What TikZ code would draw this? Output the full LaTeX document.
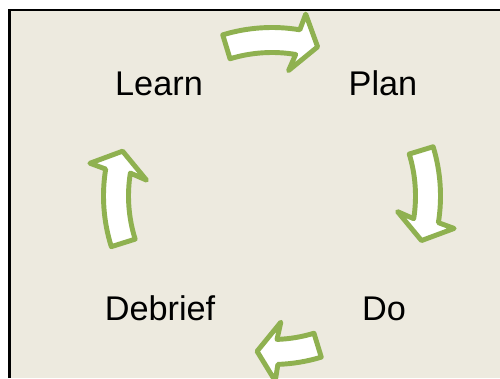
\documentclass[tikz,border=0pt]{standalone}
\usepackage{fontspec}
\setmainfont{Liberation Sans}
\usepackage{tikz}
\usetikzlibrary{positioning,calc}
\definecolor{paper}{HTML}{EDEADF}
\definecolor{leafgreen}{HTML}{8FB150}

\begin{document}
\begin{tikzpicture}[
			step label/.style={anchor=base,inner sep=0pt,font=\fontsize{19.5pt}{22pt}\selectfont},
			cyclearrow/.style={draw=leafgreen,fill=white,line width=2.8pt,line join=round},
			pics/bentarrow/.style args={#1/#2}{code={
				\draw[cyclearrow] (#1:3.37) arc[start angle=#1, end angle=#2+7.5, radius=3.37]
					-- (#2+6.5:3.7) -- (#2:3.12) -- (#2+9.5:2.53) -- (#2+7.5:2.87)
					arc[start angle=#2+7.5, end angle=#1, radius=2.87] -- cycle;
			}}
		]

		\useasboundingbox (0,0) rectangle (10,7.56);
		\fill[paper] (0.19,0) rectangle (10,7.36);
		\draw[line width=0.05cm] (0.19,0) -- (0.19,7.36) -- (10,7.36);

		\coordinate (ctr) at (5.44,3.64);

		\node[step label] (learn) at (3.18,5.64) {Learn};
		\node[step label] (plan) at (7.66,5.64) {Plan};
		\node[step label] (do) at (7.68,1.16) {Do};
		\node[step label] (debrief) at (3.2,1.16) {Debrief};

		\pic at (ctr) {bentarrow=107/73};
		\pic at (ctr) {bentarrow=17/-16.6};
		\pic at (ctr) {bentarrow=-73/-95.5};
		\pic at (ctr) {bentarrow=197.5/163.3};

	\end{tikzpicture}
\end{document}
